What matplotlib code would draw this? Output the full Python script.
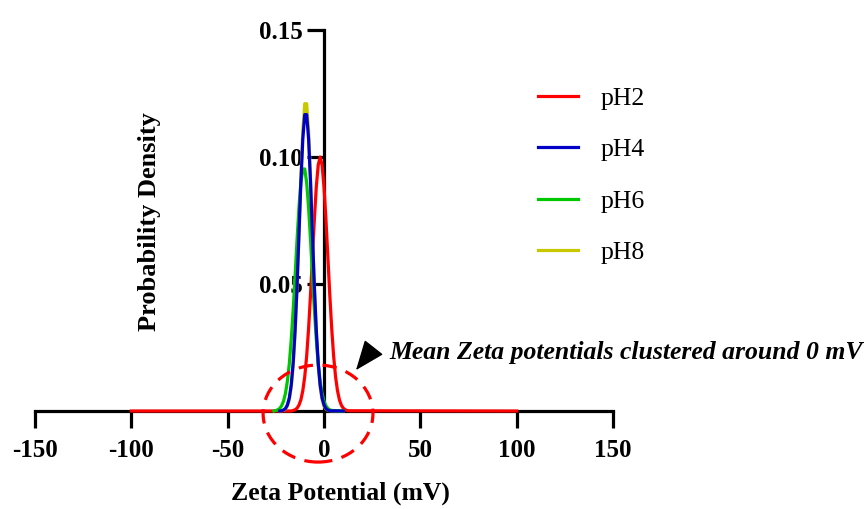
import matplotlib
matplotlib.use('Agg')
import matplotlib.pyplot as plt
from matplotlib.patches import Ellipse

plt.rcParams['font.family'] = ['Liberation Serif', 'DejaVu Serif']

# zeta potential (mV) vs probability density
red_x = [-100, -17, -16, -15, -14, -13, -12, -11, -10, -9, -8, -7, -6, -5, -4, -3, -2,
         -1, 0, 1, 2, 3, 4, 5, 6, 7, 8, 9, 10, 11, 12, 13, 100]
red_y = [0.0, 0.0, 0.0002, 0.0005, 0.0011, 0.0023, 0.0044, 0.0080, 0.0135, 0.0216, 0.0325,
         0.0458, 0.0607, 0.0755, 0.0882, 0.0969, 0.1000, 0.0969, 0.0882, 0.0755, 0.0607,
         0.0458, 0.0325, 0.0216, 0.0135, 0.0080, 0.0044, 0.0023, 0.0011, 0.0005, 0.0002,
         0.0001, 0.0]

blue_x = [-23, -22, -21, -20, -19, -18, -17, -16, -15, -14, -13, -12, -11, -10, -9, -8,
          -7, -6, -5, -4, -3, -2, -1, 0, 1, 2, 3, 10]
blue_y = [0.0, 0.0001, 0.0004, 0.0010, 0.0024, 0.0052, 0.0103, 0.0190, 0.0319, 0.0491,
          0.0695, 0.0901, 0.1071, 0.1167, 0.1167, 0.1071, 0.0901, 0.0695, 0.0491, 0.0319,
          0.0190, 0.0103, 0.0052, 0.0024, 0.0010, 0.0004, 0.0001, 0.0]

green_x = [-26, -25, -24, -23, -22, -21, -20, -19, -18, -17, -16, -15, -14, -13, -12, -11,
           -10, -9, -8, -7, -6, -5, -4, -3, -2, -1, 0, 1, 2, 3, 4, 10]
green_y = [0.0, 0.0002, 0.0005, 0.0010, 0.0021, 0.0039, 0.0070, 0.0118, 0.0187, 0.0282,
           0.0399, 0.0533, 0.0673, 0.0801, 0.0899, 0.0953, 0.0953, 0.0899, 0.0801, 0.0673,
           0.0533, 0.0399, 0.0282, 0.0187, 0.0118, 0.0070, 0.0039, 0.0021, 0.0010, 0.0005,
           0.0002, 0.0]

yellow_x = [-23, -22, -21, -20, -19, -18, -17, -16, -15, -14, -13, -12, -11, -10, -9, -8,
            -7, -6, -5, -4, -3, -2, -1, 0, 1, 2, 3, 10]
yellow_y = [0.0, 0.0001, 0.0003, 0.0008, 0.0019, 0.0044, 0.0093, 0.0176, 0.0305, 0.0483,
            0.0697, 0.0919, 0.1104, 0.1210, 0.1210, 0.1104, 0.0919, 0.0697, 0.0483, 0.0305,
            0.0176, 0.0093, 0.0044, 0.0019, 0.0008, 0.0003, 0.0001, 0.0]

x_ticks = [-150, -100, -50, 0, 50, 100, 150]
x_tick_labels = ['-150', '-100', '-50', '0', '50', '100', '150']
y_ticks = [0.05, 0.10, 0.15]
y_tick_labels = ['0.05', '0.10', '0.15']

fig = plt.figure(figsize=(8.64, 5.09), dpi=100)
ax = fig.add_axes([0.0405, 0.1925, 0.669, 0.7485])

lw = 2.3
l2, = ax.plot(red_x, red_y, color='#FF0000', lw=lw, zorder=3, clip_on=False, label='pH2')
l4, = ax.plot(blue_x, blue_y, color='#0000C8', lw=lw, zorder=6, clip_on=False, label='pH4')
l6, = ax.plot(green_x, green_y, color='#00C800', lw=lw, zorder=5, clip_on=False, label='pH6')
l8, = ax.plot(yellow_x, yellow_y, color='#C8C800', lw=lw, zorder=4, clip_on=False, label='pH8')

ax.set_xlim(-150, 150)
ax.set_ylim(0, 0.15)

for side in ['top', 'right']:
    ax.spines[side].set_visible(False)
ax.spines['left'].set_position(('data', 0))
ax.spines['bottom'].set_position(('data', 0))
for side in ['left', 'bottom']:
    ax.spines[side].set_linewidth(2.3)
ax.set_axisbelow(True)

ax.set_xticks(x_ticks)
ax.set_xticklabels(x_tick_labels, fontsize=18, fontweight='bold')
ax.set_yticks(y_ticks)
ax.set_yticklabels(y_tick_labels, fontsize=18, fontweight='bold')
ax.tick_params(axis='both', direction='out', length=12, width=2.3)
ax.tick_params(axis='x', pad=8)
ax.tick_params(axis='y', pad=3)

ax.set_xlabel('Zeta Potential (mV)', fontsize=18.5, fontweight='bold', va='top')
ax.xaxis.set_label_coords(0.529, -0.186)
ax.set_ylabel('Probability Density', fontsize=19, fontweight='bold')
ax.yaxis.set_label_coords(0.218, 0.497)

# dashed ring marking the cluster around 0 mV
ring = Ellipse((-3.1, -0.001), 57, 0.0382, fill=False, edgecolor='#FF0000',
               lw=2.3, linestyle=(0, (4.5, 3)), clip_on=False, zorder=7)
ax.add_patch(ring)

ax.annotate('', xy=(16.6, 0.0161), xytext=(25.4, 0.0246),
            arrowprops=dict(arrowstyle='-|>,head_length=1.9,head_width=0.75',
                            color='black', shrinkA=0, shrinkB=0, lw=1))
ax.text(33.7, 0.0232, 'Mean Zeta potentials clustered around 0 mV', fontsize=18.5,
        fontweight='bold', fontstyle='italic', ha='left', va='center')

ax.legend(handles=[l2, l4, l6, l8], loc='upper left', bbox_to_anchor=(0.830, 0.911),
          frameon=False, fontsize=18.5, labelspacing=1.10, handlelength=1.56,
          handletextpad=0.9)

fig.savefig('out.png', dpi=100)
